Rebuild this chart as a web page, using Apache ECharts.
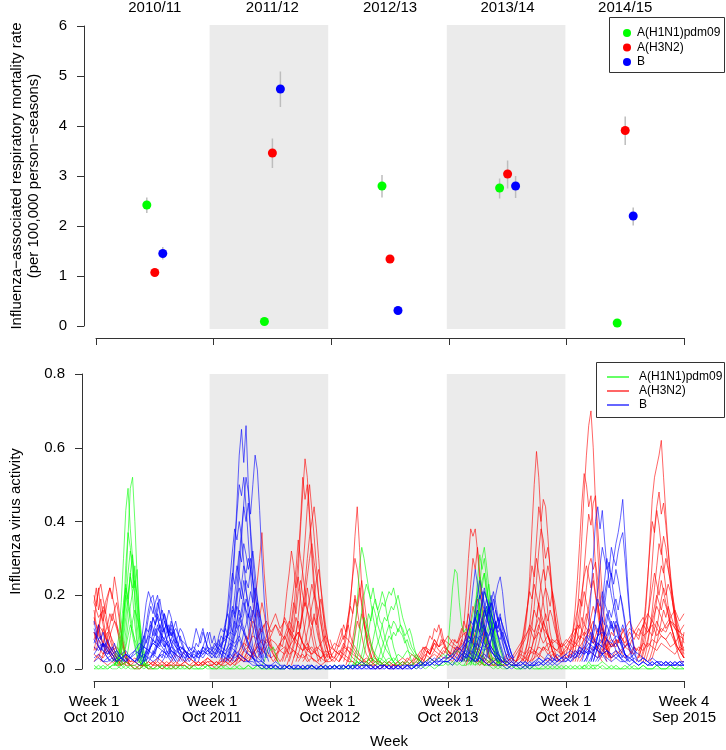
<!DOCTYPE html>
<html><head><meta charset="utf-8">
<script src="https://cdn.jsdelivr.net/npm/echarts@6/dist/echarts.min.js"></script>
<style>html,body{margin:0;padding:0;background:#fff}#c{width:726px;height:750px}</style>
</head><body><div id="c"></div>
<script>
// ---------- Top panel data ----------
const seasons = ['2010/11', '2011/12', '2012/13', '2013/14', '2014/15'];
const subtypes = ['A(H1N1)pdm09', 'A(H3N2)', 'B'];
const h1n1Rate = [2.42, 0.09, 2.80, 2.76, 0.06];
const h1n1Low  = [2.26, 0.07, 2.57, 2.55, 0.05];
const h1n1High = [2.57, 0.11, 3.02, 2.95, 0.07];
const h3n2Rate = [1.07, 3.46, 1.34, 3.04, 3.91];
const h3n2Low  = [1.00, 3.16, 1.26, 2.75, 3.62];
const h3n2High = [1.13, 3.75, 1.42, 3.31, 4.19];
const bRate = [1.45, 4.74, 0.31, 2.80, 2.20];
const bLow  = [1.33, 4.38, 0.28, 2.56, 2.01];
const bHigh = [1.58, 5.09, 0.34, 3.00, 2.37];

// ---------- Bottom panel data (week index from Week 1 Oct 2010) ----------
const weekTickLabels = ['Week 1\nOct 2010', 'Week 1\nOct 2011', 'Week 1\nOct 2012', 'Week 1\nOct 2013', 'Week 1\nOct 2014', 'Week 4\nSep 2015'];
const weekTicks = [0, 52, 104, 156, 208, 260];
const shadedSeasons = [[52, 104], [156, 208]];

// curves: [startWeek, weekly values]
const h1n1Curves = [
  [9, [.01,.02,.03,.06,.12,.22,.36,.49,.52,.40,.25,.12,.05,.02,.01,0]],
  [8, [.02,.03,.05,.09,.18,.30,.43,.49,.38,.30,.18,.08,.04,.02,.01]],
  [9, [.01,.02,.04,.08,.15,.28,.37,.33,.25,.20,.12,.06,.03,.01]],
  [10, [.01,.03,.05,.10,.18,.26,.32,.29,.22,.27,.14,.06,.02,.01]],
  [11, [.02,.04,.08,.14,.20,.25,.22,.28,.18,.10,.05,.02,.01]],
  [9, [.01,.03,.06,.12,.18,.23,.19,.15,.11,.07,.04,.02,.01]],
  [12, [.01,.03,.07,.12,.17,.21,.24,.20,.14,.09,.05,.02]],
  [10, [.02,.04,.09,.15,.20,.17,.13,.09,.06,.03,.02,.01]],
  [13, [.01,.02,.05,.09,.13,.16,.14,.11,.07,.04,.02,.01]],
  [11, [.01,.02,.04,.06,.09,.12,.10,.08,.06,.04,.02,.01]],
  [12, [.02,.05,.10,.17,.26,.31,.24,.16,.09,.05,.02,.01]],
  [10, [.01,.03,.07,.14,.22,.19,.26,.20,.12,.07,.03,.01]],
  [74, [.01,.02,.04,.06,.05,.06,.04,.02,.01]],
  [112, [.01,.02,.05,.10,.18,.28,.33,.30,.26,.22,.18,.14,.11,.08,.06,.04,.03,.02,.01]],
  [114, [.01,.03,.06,.11,.16,.20,.23,.21,.19,.22,.18,.16,.13,.12,.09,.07,.05,.03,.02,.01]],
  [118, [.02,.04,.07,.10,.14,.17,.19,.16,.18,.21,.19,.15,.12,.09,.06,.04,.02,.01]],
  [120, [.01,.03,.05,.08,.11,.14,.16,.18,.17,.19,.21,.20,.22,.19,.16,.12,.10,.08,.06,.04,.02,.01]],
  [122, [.02,.03,.05,.07,.09,.12,.14,.13,.15,.17,.16,.18,.20,.17,.14,.12,.10,.11,.09,.06,.04,.03,.02]],
  [116, [.01,.02,.04,.07,.11,.15,.13,.17,.15,.12,.10,.08,.06,.05,.04,.03,.02,.01]],
  [124, [.01,.02,.04,.06,.08,.10,.12,.11,.13,.12,.10,.12,.11,.09,.10,.08,.06,.05,.04,.03,.02,.01]],
  [115, [.01,.03,.06,.10,.14,.12,.09,.07,.05,.04,.03,.02,.01]],
  [125, [.01,.02,.03,.05,.07,.09,.08,.10,.09,.11,.10,.09,.07,.08,.06,.05,.04,.03,.02,.01]],
  [155, [.02,.06,.14,.22,.27,.26,.18,.12,.10,.11,.09,.08,.06,.05,.04,.03,.02,.01]],
  [166, [.01,.03,.07,.13,.22,.30,.33,.28,.22,.15,.09,.05,.03,.01]],
  [165, [.02,.04,.09,.16,.24,.31,.27,.30,.24,.17,.10,.06,.03,.02,.01]],
  [166, [.01,.03,.06,.11,.18,.24,.26,.22,.18,.13,.08,.05,.02,.01]],
  [167, [.02,.04,.08,.13,.17,.21,.19,.23,.18,.12,.07,.04,.02,.01]],
  [165, [.01,.02,.05,.09,.14,.18,.16,.14,.17,.13,.09,.06,.03,.01]],
  [168, [.01,.03,.06,.10,.14,.16,.13,.11,.08,.05,.03,.01]],
  [163, [.01,.02,.04,.07,.10,.13,.15,.12,.10,.08,.05,.03,.02,.01]],
  [170, [.01,.02,.05,.08,.11,.13,.11,.09,.07,.05,.03,.02,.01]],
  [162, [.02,.04,.06,.09,.12,.15,.18,.20,.17,.14,.11,.08,.05,.03,.02]],
  [164, [.02,.03,.06,.10,.15,.21,.25,.22,.26,.20,.14,.09,.05,.03,.01]],
  [167, [.01,.03,.05,.08,.12,.16,.14,.18,.15,.11,.08,.05,.03,.02]],
  [163, [.02,.04,.07,.11,.09,.13,.16,.13,.10,.12,.09,.06,.04,.02,.01]],
  [169, [.01,.02,.04,.07,.10,.12,.15,.13,.10,.08,.06,.04,.02]],
  [215, [0,.01,.01,.02,.01,.01,0]]
];
const h3n2Curves = [
  [0, [.20,.17,.22,.15,.12,.09,.07,.05,.04,.03,.02,.02,.01]],
  [0, [.12,.18,.21,.23,.19,.16,.12,.10,.07,.05,.03,.02,.01]],
  [1, [.08,.11,.15,.13,.18,.20,.22,.19,.25,.21,.16,.10,.06,.03,.02,.01]],
  [0, [.05,.08,.10,.14,.17,.15,.19,.22,.20,.17,.12,.08,.05,.03,.01]],
  [2, [.03,.05,.07,.10,.12,.15,.13,.16,.18,.14,.10,.07,.04,.02,.01]],
  [0, [.16,.12,.10,.08,.11,.09,.07,.06,.05,.04,.03,.02]],
  [3, [.02,.04,.05,.07,.09,.11,.13,.12,.10,.08,.06,.04,.02,.01]],
  [0, [.06,.05,.08,.07,.06,.09,.10,.08,.06,.05,.04,.03,.02,.01]],
  [0, [.18,.22,.16,.19,.14,.10,.08,.06,.05,.04,.03,.02,.01]],
  [4, [.04,.06,.09,.12,.15,.13,.11,.09,.07,.05,.04,.03,.02]],
  [0, [.10,.08,.12,.09,.07,.05,.06,.04,.03,.02,.02,.01]],
  [64, [.02,.03,.05,.07,.09,.12,.15,.19,.24,.30,.37,.26,.18,.11,.07,.05,.04,.03,.02]],
  [66, [.02,.04,.06,.08,.10,.13,.16,.14,.18,.15,.11,.08,.06,.04,.03,.02]],
  [62, [.01,.02,.04,.05,.07,.09,.08,.11,.13,.12,.10,.08,.07,.06,.05,.04,.03,.02]],
  [68, [.02,.03,.05,.07,.09,.11,.10,.12,.09,.07,.05,.04,.03,.02]],
  [85, [.03,.05,.08,.12,.18,.26,.38,.48,.57,.52,.42,.33,.24,.17,.11,.07,.05,.03,.02]],
  [84, [.02,.04,.07,.11,.16,.23,.30,.40,.52,.46,.50,.41,.30,.21,.14,.09,.06,.04,.02]],
  [86, [.02,.04,.06,.09,.14,.20,.27,.35,.44,.50,.43,.36,.28,.20,.13,.08,.05,.03]],
  [88, [.03,.05,.08,.12,.17,.23,.30,.36,.40,.44,.38,.30,.22,.15,.09,.05,.03]],
  [80, [.02,.04,.06,.10,.15,.21,.26,.32,.28,.22,.25,.19,.14,.10,.07,.05,.03,.02]],
  [82, [.02,.03,.05,.08,.12,.17,.22,.27,.35,.30,.26,.21,.16,.12,.09,.06,.04,.02]],
  [87, [.01,.03,.05,.08,.12,.16,.20,.25,.30,.34,.29,.25,.20,.15,.11,.07,.05,.03,.02]],
  [83, [.02,.04,.06,.09,.13,.18,.15,.21,.24,.20,.17,.22,.18,.13,.09,.06,.04,.02]],
  [89, [.02,.04,.06,.09,.12,.16,.19,.23,.20,.24,.27,.22,.17,.12,.08,.05,.03]],
  [85, [.01,.03,.05,.07,.10,.13,.11,.15,.18,.16,.14,.12,.15,.11,.08,.06,.04,.02]],
  [90, [.02,.03,.05,.07,.10,.13,.17,.20,.18,.15,.12,.09,.07,.05,.03]],
  [79, [.02,.03,.05,.07,.06,.09,.11,.13,.12,.10,.14,.12,.09,.07,.05,.03,.02]],
  [92, [.02,.03,.05,.08,.11,.14,.12,.16,.19,.15,.11,.08,.05,.03]],
  [108, [.02,.03,.05,.08,.12,.18,.26,.36,.44,.33,.22,.14,.09,.06,.04,.02]],
  [108, [.02,.04,.06,.10,.14,.19,.25,.30,.27,.22,.17,.12,.08,.05,.03,.02]],
  [110, [.02,.04,.07,.11,.15,.20,.17,.22,.18,.13,.09,.06,.04,.02]],
  [106, [.03,.05,.07,.09,.12,.10,.14,.17,.15,.19,.16,.12,.09,.06,.04,.03,.02]],
  [111, [.01,.03,.05,.08,.12,.16,.20,.24,.19,.14,.10,.07,.05,.03,.02]],
  [104, [.08,.06,.05,.07,.09,.11,.08,.10,.12,.09,.07,.06,.05,.04,.03,.02]],
  [112, [.02,.04,.06,.09,.13,.11,.15,.12,.10,.08,.06,.04,.03,.02]],
  [142, [.02,.03,.04,.06,.05,.07,.09,.08,.11,.10,.12,.09,.07,.06,.05,.04]],
  [145, [.02,.03,.05,.04,.06,.08,.07,.09,.11,.08,.06,.05,.04,.03]],
  [144, [.01,.02,.03,.05,.04,.06,.05,.07,.06,.08,.07,.05,.04,.03]],
  [160, [.02,.04,.07,.12,.20,.30,.38,.36,.38,.32,.24,.16,.10,.06,.04,.02]],
  [161, [.02,.03,.06,.10,.16,.23,.30,.27,.33,.26,.19,.12,.07,.04,.02]],
  [162, [.02,.04,.06,.09,.13,.17,.15,.19,.16,.12,.08,.05,.03,.02]],
  [164, [.01,.03,.05,.07,.10,.12,.10,.13,.11,.08,.06,.04,.02]],
  [158, [.03,.05,.04,.06,.08,.07,.09,.11,.10,.08,.06,.05,.04,.03,.02]],
  [156, [.05,.04,.06,.08,.07,.09,.11,.10,.08,.12,.09,.07,.06,.05,.04,.03,.02]],
  [158, [.04,.06,.05,.08,.10,.13,.11,.15,.12,.10,.08,.07,.05,.04,.03,.02]],
  [166, [.02,.03,.05,.07,.06,.08,.10,.09,.07,.06,.05,.04,.03,.02]],
  [188, [.03,.06,.10,.16,.25,.38,.50,.59,.52,.40,.30,.22,.15,.10,.07,.05,.03,.02]],
  [189, [.02,.04,.07,.12,.18,.26,.35,.44,.40,.46,.44,.36,.27,.19,.13,.08,.05,.03]],
  [190, [.02,.04,.07,.11,.17,.24,.32,.38,.35,.30,.33,.28,.21,.15,.10,.06,.04,.02]],
  [187, [.03,.05,.08,.12,.17,.22,.28,.25,.30,.26,.22,.18,.14,.10,.07,.05,.03,.02]],
  [191, [.02,.04,.06,.09,.13,.18,.23,.27,.24,.28,.25,.20,.15,.11,.08,.05,.03]],
  [186, [.02,.04,.06,.09,.13,.17,.21,.19,.23,.20,.17,.14,.11,.08,.06,.04,.02]],
  [192, [.02,.03,.05,.08,.11,.15,.19,.22,.20,.17,.21,.18,.14,.10,.07,.05,.03]],
  [188, [.02,.03,.05,.07,.10,.13,.16,.14,.18,.15,.13,.11,.09,.07,.05,.03]],
  [193, [.02,.03,.05,.07,.10,.12,.15,.13,.16,.14,.11,.09,.07,.05,.04,.03]],
  [190, [.01,.02,.04,.06,.08,.10,.12,.10,.13,.11,.09,.07,.05,.04,.03,.02]],
  [210, [.03,.05,.09,.15,.24,.36,.48,.58,.66,.70,.60,.45,.32,.21,.13,.08,.05,.03]],
  [209, [.03,.06,.10,.16,.24,.34,.45,.53,.50,.44,.47,.38,.28,.19,.12,.07,.04,.02]],
  [211, [.02,.05,.08,.13,.19,.27,.35,.42,.39,.45,.47,.38,.29,.20,.13,.08,.05,.03]],
  [212, [.02,.04,.07,.11,.16,.22,.28,.30,.27,.29,.24,.18,.13,.09,.06,.04,.02]],
  [210, [.03,.05,.08,.12,.16,.21,.25,.28,.25,.22,.26,.20,.15,.11,.08,.05,.03]],
  [213, [.02,.04,.06,.09,.13,.17,.21,.24,.20,.17,.13,.10,.07,.05,.03]],
  [208, [.04,.06,.08,.10,.13,.16,.19,.17,.21,.18,.15,.12,.09,.07,.05,.03,.02]],
  [214, [.02,.03,.05,.08,.11,.14,.17,.15,.18,.14,.11,.08,.06,.04,.03]],
  [209, [.03,.05,.07,.09,.12,.11,.14,.12,.15,.13,.11,.09,.07,.05,.04,.03]],
  [224, [.05,.07,.06,.08,.10,.09,.12,.10,.08,.11,.09,.07,.06,.08,.06,.05]],
  [226, [.04,.05,.07,.06,.08,.07,.09,.08,.06,.07,.05,.04,.06,.05]],
  [240, [.03,.05,.09,.15,.24,.35,.46,.52,.55,.58,.62,.52,.42,.33,.25,.18,.13,.09,.06,.04,.03]],
  [241, [.03,.05,.08,.13,.20,.29,.38,.44,.48,.42,.45,.39,.32,.26,.20,.15,.11,.08,.05,.03]],
  [239, [.02,.04,.07,.11,.17,.25,.33,.40,.37,.43,.39,.33,.27,.22,.17,.13,.10,.07,.05,.03,.02,.02]],
  [242, [.02,.04,.07,.11,.16,.22,.28,.34,.31,.36,.33,.28,.23,.18,.14,.10,.08,.06,.04]],
  [243, [.02,.04,.06,.10,.14,.19,.24,.28,.26,.30,.27,.24,.20,.16,.12,.09,.07,.05]],
  [240, [.03,.05,.07,.10,.14,.18,.22,.26,.23,.20,.24,.21,.18,.15,.12,.10,.08,.06,.05,.04,.03]],
  [244, [.02,.03,.05,.08,.11,.15,.19,.22,.20,.23,.21,.18,.15,.13,.11,.09,.07]],
  [241, [.02,.04,.06,.08,.11,.14,.17,.20,.18,.16,.19,.17,.15,.12,.10,.08,.06,.05,.04,.03]],
  [245, [.02,.03,.05,.07,.10,.13,.16,.14,.17,.15,.13,.11,.10,.08,.06,.10]]
];
const bCurves = [
  [0, [.13,.10,.08,.09,.06,.07,.05,.04,.03,.02]],
  [0, [.07,.09,.06,.05,.07,.04,.03,.02]],
  [0, [.11,.09,.12,.08,.10,.07,.06,.05,.04,.03,.02]],
  [3, [.05,.07,.06,.08,.06,.05,.07,.05,.04,.03,.02,.03,.02]],
  [19, [.02,.04,.08,.13,.18,.21,.19,.20,.16,.14,.11,.09,.07,.05,.04,.03,.02]],
  [20, [.02,.03,.06,.10,.14,.17,.15,.18,.20,.16,.12,.10,.08,.06,.04,.03,.02]],
  [21, [.01,.03,.05,.08,.11,.14,.12,.15,.13,.16,.14,.12,.09,.07,.05,.03,.02]],
  [22, [.02,.03,.05,.07,.10,.12,.14,.11,.13,.15,.12,.10,.11,.09,.07,.05,.04,.03]],
  [23, [.02,.04,.06,.08,.07,.10,.12,.10,.13,.11,.09,.12,.10,.08,.06,.05,.03,.02]],
  [18, [.02,.03,.05,.07,.09,.11,.10,.12,.09,.11,.08,.07,.06,.05,.04,.03,.02]],
  [24, [.02,.03,.04,.06,.08,.07,.09,.11,.08,.10,.13,.11,.09,.07,.05,.04,.03,.02]],
  [21, [.02,.03,.05,.04,.06,.08,.07,.09,.08,.07,.06,.08,.07,.05,.04,.03]],
  [20, [.03,.05,.08,.12,.16,.19,.17,.14,.18,.15,.12,.10,.13,.09,.07,.06,.04,.03,.02]],
  [22, [.02,.04,.07,.10,.14,.12,.16,.19,.15,.13,.11,.09,.10,.08,.06,.05,.03,.02]],
  [25, [.03,.05,.04,.07,.06,.09,.08,.10,.12,.09,.11,.08,.07,.05,.06,.04,.03,.02]],
  [28, [.02,.04,.03,.05,.07,.06,.08,.10,.08,.06,.09,.07,.05,.04,.03]],
  [19, [.02,.03,.06,.09,.07,.10,.13,.11,.09,.12,.10,.08,.06,.07,.05,.04,.03,.02]],
  [26, [.03,.05,.07,.09,.12,.15,.13,.16,.14,.11,.13,.10,.08,.06,.05,.04,.03]],
  [30, [.02,.03,.05,.04,.06,.08,.07,.09,.11,.10,.08,.06,.05,.04,.03,.02]],
  [40, [.02,.04,.06,.05,.08,.11,.09,.07,.10,.08,.06,.05,.04]],
  [42, [.02,.03,.05,.07,.06,.09,.11,.08,.06,.04,.03]],
  [44, [.02,.03,.05,.04,.06,.08,.10,.07,.05,.04,.03]],
  [46, [.02,.04,.06,.05,.08,.10,.07,.09,.06,.05,.04]],
  [56, [.03,.05,.07,.10,.15,.22,.32,.45,.58,.65,.56,.66,.50,.36,.24,.15,.09,.05,.03,.02]],
  [59, [.03,.05,.08,.12,.18,.26,.35,.45,.52,.48,.42,.50,.58,.54,.43,.30,.19,.11,.06,.03]],
  [56, [.02,.04,.07,.11,.17,.25,.34,.42,.50,.47,.52,.44,.35,.26,.18,.11,.07,.04,.02]],
  [58, [.02,.04,.06,.10,.15,.22,.30,.38,.44,.40,.45,.38,.30,.22,.15,.09,.05,.03]],
  [55, [.03,.05,.08,.12,.18,.25,.32,.38,.35,.40,.36,.29,.22,.15,.10,.06,.04,.02]],
  [57, [.02,.04,.06,.09,.14,.20,.26,.32,.29,.34,.31,.27,.30,.24,.17,.11,.07,.04,.02]],
  [59, [.02,.04,.06,.09,.13,.18,.23,.28,.26,.30,.27,.32,.26,.19,.13,.08,.05,.03]],
  [54, [.04,.06,.09,.08,.12,.16,.21,.26,.23,.28,.25,.22,.19,.15,.11,.07,.04,.02]],
  [60, [.02,.03,.05,.08,.12,.16,.20,.24,.22,.27,.24,.20,.16,.12,.08,.05,.03]],
  [56, [.03,.05,.07,.10,.13,.17,.15,.20,.22,.19,.24,.21,.18,.14,.11,.08,.05,.03]],
  [61, [.02,.04,.06,.09,.12,.15,.19,.17,.21,.18,.22,.19,.15,.11,.07,.04,.02]],
  [58, [.02,.03,.05,.07,.10,.13,.16,.14,.18,.16,.14,.17,.14,.11,.08,.05,.03]],
  [52, [.05,.07,.06,.09,.11,.10,.13,.15,.12,.16,.14,.17,.15,.13,.11,.09,.07,.05,.03,.02]],
  [62, [.02,.03,.05,.07,.10,.12,.15,.13,.16,.14,.18,.15,.12,.09,.06,.04]],
  [53, [.03,.05,.08,.06,.09,.11,.09,.12,.10,.13,.11,.14,.12,.10,.08,.06,.05,.03]],
  [162, [.02,.04,.07,.11,.16,.22,.27,.23,.19,.21,.18,.15,.12,.09,.07,.05,.03,.02]],
  [169, [.02,.04,.06,.09,.12,.15,.18,.16,.20,.23,.25,.21,.15,.10,.06,.04,.02]],
  [164, [.02,.04,.06,.09,.13,.17,.20,.18,.22,.19,.16,.13,.10,.07,.05,.03,.02]],
  [165, [.02,.03,.05,.08,.11,.15,.18,.16,.19,.17,.20,.16,.12,.09,.06,.04,.02]],
  [166, [.02,.03,.05,.07,.10,.13,.16,.14,.17,.15,.13,.16,.13,.10,.07,.05,.03,.02]],
  [163, [.02,.04,.06,.08,.11,.14,.12,.15,.13,.16,.14,.12,.10,.08,.06,.04,.03]],
  [167, [.02,.03,.05,.07,.09,.12,.14,.12,.15,.13,.11,.14,.12,.09,.07,.05,.03]],
  [170, [.02,.03,.05,.07,.09,.11,.10,.13,.11,.14,.12,.10,.08,.06,.04,.03]],
  [161, [.02,.03,.05,.07,.09,.08,.11,.10,.12,.10,.09,.11,.09,.07,.05,.04,.03,.02]],
  [168, [.02,.03,.04,.06,.08,.10,.09,.11,.13,.11,.09,.08,.10,.08,.06,.04,.03]],
  [160, [.02,.03,.05,.07,.09,.11,.13,.12,.14,.16,.13,.11,.12,.10,.08,.06,.05,.04,.03,.02]],
  [166, [.02,.04,.07,.10,.14,.18,.21,.19,.16,.18,.15,.12,.09,.07,.05,.03,.02]],
  [172, [.02,.03,.05,.08,.10,.13,.11,.14,.12,.10,.08,.06,.04,.03]],
  [164, [.03,.05,.08,.12,.16,.20,.24,.21,.17,.14,.16,.12,.09,.06,.04,.03,.02]],
  [167, [.02,.03,.05,.08,.11,.14,.17,.15,.18,.21,.18,.14,.11,.08,.05,.03,.02]],
  [162, [.02,.04,.06,.09,.08,.11,.14,.12,.10,.13,.11,.09,.07,.05,.04,.03,.02]],
  [169, [.02,.04,.06,.09,.13,.17,.15,.19,.16,.13,.15,.11,.08,.05,.03,.02]],
  [171, [.02,.03,.04,.06,.08,.10,.12,.10,.11,.09,.07,.06,.04,.03,.02]],
  [215, [.02,.04,.07,.12,.20,.30,.40,.44,.38,.43,.35,.28,.24,.20,.17,.14,.11,.08,.06,.04,.03]],
  [219, [.02,.04,.06,.09,.13,.18,.24,.30,.27,.33,.30,.34,.37,.41,.46,.36,.25,.16,.10,.06,.04]],
  [220, [.02,.04,.06,.09,.13,.17,.22,.27,.25,.30,.28,.32,.35,.37,.30,.22,.15,.09,.05,.03]],
  [217, [.02,.04,.07,.11,.16,.22,.28,.33,.30,.27,.29,.25,.20,.16,.12,.09,.06,.04,.02]],
  [219, [.02,.04,.06,.09,.12,.16,.20,.24,.22,.26,.23,.27,.24,.20,.16,.12,.08,.05,.03]],
  [216, [.02,.03,.05,.08,.11,.15,.19,.17,.21,.18,.16,.14,.12,.10,.08,.06,.04,.03]],
  [221, [.02,.03,.05,.07,.10,.13,.16,.14,.17,.19,.16,.20,.17,.13,.09,.06,.04,.02]],
  [218, [.02,.03,.05,.07,.09,.12,.14,.12,.15,.13,.11,.13,.11,.09,.07,.05,.04,.03]],
  [222, [.02,.03,.04,.06,.08,.10,.12,.11,.13,.12,.10,.12,.10,.08,.06,.05,.04]],
  [216, [.02,.03,.05,.07,.09,.12,.10,.13,.11,.09,.12,.10,.08,.07,.05,.04,.03,.02]],
  [220, [.02,.04,.06,.08,.07,.10,.09,.11,.13,.10,.12,.09,.07,.06,.04,.03,.02]],
  [212, [.03,.04,.06,.05,.07,.09,.08,.10,.08,.07,.06,.05,.04,.03,.02]]
];

// long low-level curves, one value every 2 weeks from week 0 to week 260
const h3n2Baselines = [
  [.10,.06,.04,.05,.03,.02,.03,.02,.01,.02,.01,.01,.02,.01,.01,.02,.01,.02,.01,.01,.02,.03,.02,.01,.02,.03,
   .02,.01,.02,.03,.02,.04,.03,.05,.06,.04,.07,.05,.08,.06,.05,.07,.09,.06,.08,.10,.07,.05,.06,.04,.03,.05,
   .04,.03,.05,.04,.06,.05,.03,.02,.03,.02,.01,.02,.01,.02,.01,.01,.02,.01,.02,.03,.02,.04,.03,.05,.04,.06,
   .05,.04,.06,.05,.07,.04,.03,.02,.03,.02,.03,.02,.01,.02,.03,.02,.04,.03,.05,.04,.06,.05,.07,.06,.05,.07,
   .06,.08,.07,.09,.08,.10,.07,.06,.08,.05,.07,.06,.09,.07,.10,.08,.11,.09,.10,.12,.09,.11,.10,.13,.11,.10,.12],
  [.04,.03,.02,.01,.02,.01,.01,.02,.01,.00,.01,.01,.00,.01,.02,.01,.01,.00,.01,.01,.02,.01,.01,.02,.01,.02,
   .01,.02,.01,.02,.01,.02,.03,.02,.03,.04,.03,.05,.04,.03,.04,.05,.04,.06,.05,.04,.03,.04,.03,.02,.03,.02,
   .02,.03,.02,.04,.03,.02,.01,.02,.01,.01,.00,.01,.01,.00,.01,.01,.02,.01,.02,.01,.03,.02,.03,.02,.04,.03,
   .03,.02,.04,.03,.02,.03,.02,.01,.02,.01,.01,.02,.01,.01,.02,.01,.02,.03,.02,.03,.04,.03,.02,.04,.03,.02,
   .03,.04,.05,.04,.06,.05,.04,.03,.05,.04,.03,.05,.04,.06,.05,.04,.06,.05,.07,.06,.05,.07,.06,.05,.04,.06,.05],
  [.14,.09,.07,.06,.04,.03,.02,.01,.01,.00,.00,.01,.00,.00,.01,.00,.01,.01,.00,.01,.01,.00,.01,.01,.02,.01,
   .01,.00,.01,.01,.02,.01,.02,.03,.02,.04,.06,.08,.07,.09,.12,.10,.08,.11,.09,.07,.05,.06,.04,.05,.07,.09,
   .06,.05,.04,.03,.02,.02,.01,.01,.02,.01,.01,.00,.01,.01,.00,.01,.01,.02,.01,.03,.02,.05,.04,.07,.06,.08,
   .07,.06,.05,.04,.03,.02,.03,.02,.01,.02,.01,.01,.02,.02,.03,.02,.05,.04,.06,.05,.04,.06,.05,.08,.07,.06,
   .08,.07,.06,.08,.10,.09,.07,.11,.09,.08,.06,.07,.09,.11,.13,.10,.12,.14,.11,.09,.13,.10,.12,.14,.16,.13,.15],
  [.08,.12,.10,.07,.05,.06,.04,.03,.02,.03,.02,.01,.02,.01,.03,.02,.01,.02,.04,.03,.02,.01,.02,.01,.02,.01,
   .01,.02,.01,.03,.02,.04,.05,.07,.06,.09,.08,.11,.13,.10,.12,.09,.14,.11,.08,.10,.07,.05,.04,.06,.05,.03,
   .05,.07,.06,.09,.08,.06,.04,.03,.02,.03,.02,.02,.01,.02,.01,.02,.03,.02,.04,.03,.05,.06,.04,.07,.05,.04,
   .06,.08,.07,.09,.10,.08,.06,.05,.04,.03,.02,.03,.02,.04,.03,.05,.07,.09,.11,.08,.10,.07,.09,.06,.05,.04,
   .05,.07,.10,.12,.09,.11,.08,.07,.05,.06,.08,.07,.05,.06,.08,.10,.09,.12,.10,.13,.11,.09,.08,.10,.07,.09,.08],
  [.02,.04,.03,.05,.04,.02,.01,.02,.01,.01,.00,.01,.01,.02,.01,.00,.01,.01,.02,.01,.01,.00,.01,.02,.01,.03,
   .02,.01,.03,.02,.01,.02,.03,.02,.04,.03,.05,.04,.06,.08,.07,.05,.06,.04,.05,.03,.04,.02,.03,.02,.01,.02,
   .03,.02,.04,.06,.05,.03,.02,.01,.01,.02,.01,.00,.01,.00,.01,.01,.00,.01,.01,.02,.01,.02,.03,.04,.03,.05,
   .04,.03,.05,.07,.06,.04,.05,.03,.02,.01,.02,.01,.01,.02,.01,.02,.03,.02,.04,.05,.03,.06,.04,.05,.03,.04,
   .06,.05,.07,.06,.08,.07,.05,.06,.04,.05,.03,.04,.05,.03,.04,.06,.05,.07,.06,.08,.07,.09,.08,.06,.07,.05,.06],
  [.18,.14,.16,.11,.08,.05,.04,.03,.02,.02,.01,.01,.01,.02,.01,.01,.02,.01,.01,.03,.05,.03,.02,.01,.01,.02,
   .02,.01,.02,.02,.03,.02,.04,.03,.05,.04,.06,.05,.09,.12,.15,.11,.13,.10,.08,.06,.05,.07,.05,.04,.03,.04,
   .03,.05,.04,.07,.05,.04,.03,.02,.02,.01,.02,.01,.02,.01,.01,.02,.01,.03,.02,.04,.03,.06,.05,.08,.06,.07,
   .09,.07,.06,.05,.04,.03,.02,.02,.01,.02,.01,.02,.02,.03,.02,.04,.06,.08,.12,.10,.14,.11,.09,.07,.08,.06,
   .07,.09,.11,.08,.12,.10,.13,.09,.11,.08,.06,.08,.07,.09,.11,.10,.08,.12,.15,.13,.17,.14,.11,.13,.12,.10,.09]
];
const bBaselines = [
  [.06,.05,.07,.04,.05,.03,.04,.05,.03,.04,.05,.06,.05,.07,.06,.05,.04,.06,.05,.04,.03,.04,.05,.03,.04,.06,
   .05,.04,.06,.05,.07,.06,.08,.05,.04,.03,.02,.02,.01,.01,.02,.01,.01,.00,.01,.01,.00,.01,.01,.00,.01,.00,
   .01,.00,.01,.01,.00,.01,.01,.02,.01,.01,.00,.01,.01,.00,.01,.00,.01,.01,.00,.01,.01,.02,.01,.02,.01,.02,
   .02,.03,.02,.04,.03,.05,.04,.03,.04,.03,.02,.03,.02,.01,.02,.01,.02,.01,.01,.02,.01,.02,.03,.02,.03,.02,
   .03,.02,.04,.03,.05,.04,.06,.05,.04,.05,.04,.03,.04,.03,.02,.03,.02,.03,.02,.01,.02,.01,.02,.01,.02,.01,.02],
  [.03,.04,.02,.03,.02,.03,.02,.04,.03,.02,.03,.04,.03,.02,.03,.04,.03,.05,.04,.03,.05,.04,.03,.04,.05,.04,
   .03,.05,.04,.03,.04,.03,.04,.03,.02,.03,.01,.01,.00,.01,.00,.00,.01,.00,.00,.01,.00,.00,.01,.00,.00,.01,
   .00,.01,.00,.00,.01,.00,.01,.00,.00,.01,.00,.00,.01,.00,.00,.01,.00,.01,.00,.01,.02,.01,.02,.03,.02,.03,
   .03,.04,.03,.05,.04,.03,.02,.03,.02,.01,.02,.01,.01,.00,.01,.01,.00,.01,.00,.01,.01,.02,.01,.02,.01,.02,
   .02,.03,.04,.05,.04,.05,.04,.03,.04,.03,.02,.03,.02,.02,.01,.02,.01,.02,.01,.01,.02,.01,.01,.02,.01,.01,.01],
  [.10,.08,.05,.04,.06,.04,.03,.02,.03,.02,.01,.02,.03,.04,.03,.05,.04,.03,.05,.06,.05,.04,.03,.05,.04,.05,
   .04,.06,.05,.04,.06,.05,.03,.02,.02,.01,.01,.00,.01,.00,.01,.00,.00,.01,.00,.01,.00,.00,.01,.00,.01,.00,
   .00,.01,.00,.01,.00,.00,.01,.00,.01,.00,.00,.01,.00,.01,.00,.00,.01,.00,.00,.01,.00,.01,.01,.02,.01,.02,
   .02,.01,.03,.02,.04,.03,.02,.03,.02,.01,.02,.01,.02,.01,.00,.01,.01,.00,.01,.01,.02,.01,.02,.03,.02,.03,
   .04,.05,.04,.06,.05,.07,.06,.05,.04,.05,.03,.04,.03,.02,.03,.02,.01,.02,.01,.02,.01,.01,.02,.01,.01,.02,.01],
  [.04,.06,.05,.03,.04,.02,.03,.02,.04,.05,.07,.06,.09,.08,.11,.09,.07,.08,.06,.05,.04,.03,.05,.04,.06,.05,
   .06,.05,.07,.08,.10,.09,.12,.10,.07,.05,.03,.02,.01,.01,.00,.01,.00,.01,.00,.00,.01,.00,.01,.00,.00,.01,
   .00,.00,.01,.00,.01,.00,.00,.01,.01,.00,.01,.00,.00,.01,.00,.01,.00,.01,.01,.00,.01,.02,.01,.02,.03,.02,
   .03,.04,.06,.05,.07,.08,.06,.09,.07,.05,.04,.03,.02,.01,.02,.01,.01,.02,.01,.02,.03,.02,.04,.03,.02,.03,
   .04,.03,.05,.04,.06,.08,.07,.09,.10,.08,.06,.07,.05,.04,.03,.04,.02,.03,.02,.01,.02,.02,.01,.02,.01,.02,.01],
  [.02,.03,.02,.02,.03,.02,.03,.04,.03,.05,.04,.06,.05,.04,.06,.08,.07,.05,.04,.06,.05,.03,.04,.03,.05,.04,
   .05,.07,.06,.09,.08,.07,.09,.06,.04,.03,.02,.01,.01,.00,.01,.00,.00,.01,.00,.00,.01,.00,.00,.00,.01,.00,
   .01,.00,.00,.01,.00,.01,.00,.00,.01,.00,.00,.01,.01,.00,.00,.01,.00,.00,.01,.01,.02,.01,.03,.02,.02,.03,
   .04,.03,.05,.06,.08,.07,.09,.08,.06,.07,.05,.04,.03,.02,.01,.02,.01,.02,.01,.01,.02,.01,.02,.01,.02,.03,
   .03,.02,.03,.05,.04,.06,.05,.07,.06,.08,.07,.09,.08,.06,.07,.05,.04,.03,.02,.03,.02,.01,.02,.01,.01,.02,.02],
  [.08,.06,.07,.05,.04,.05,.03,.04,.03,.02,.04,.03,.05,.07,.06,.10,.12,.09,.11,.08,.07,.05,.06,.04,.03,.05,
   .04,.03,.05,.04,.03,.05,.04,.03,.02,.02,.01,.01,.00,.01,.01,.00,.01,.00,.01,.00,.00,.01,.00,.01,.00,.00,
   .00,.01,.00,.00,.01,.01,.00,.01,.00,.00,.01,.00,.01,.00,.01,.00,.00,.01,.00,.01,.01,.01,.02,.01,.02,.02,
   .02,.03,.02,.04,.05,.04,.07,.06,.05,.06,.04,.03,.02,.02,.01,.01,.02,.01,.02,.01,.03,.02,.03,.02,.04,.03,
   .02,.04,.03,.04,.05,.04,.05,.07,.06,.05,.04,.05,.03,.04,.03,.02,.01,.02,.01,.02,.01,.02,.01,.01,.02,.01,.01]
];
const h1n1Baselines = [
  [.01,.00,.01,.00,.01,.02,.01,.02,.01,.01,.02,.01,.01,.00,.01,.00,.00,.01,.00,.01,.00,.00,.01,.00,.00,.01,
   .00,.00,.01,.00,.00,.01,.00,.00,.01,.00,.01,.00,.00,.00,.01,.00,.00,.01,.00,.00,.00,.01,.00,.00,.01,.00,
   .00,.01,.00,.01,.00,.01,.02,.01,.02,.03,.02,.03,.02,.03,.02,.04,.03,.05,.04,.03,.02,.01,.02,.01,.01,.02,
   .01,.02,.01,.02,.03,.02,.03,.04,.03,.02,.03,.02,.01,.02,.01,.01,.00,.01,.00,.01,.00,.00,.01,.00,.00,.01,
   .00,.00,.01,.00,.01,.00,.00,.01,.00,.00,.01,.00,.00,.00,.01,.00,.00,.01,.00,.00,.01,.00,.00,.01,.00,.00,.00],
  [.00,.00,.00,.01,.00,.00,.01,.00,.01,.00,.00,.01,.00,.00,.00,.01,.00,.00,.00,.00,.01,.00,.00,.00,.01,.00,
   .00,.01,.00,.00,.00,.00,.01,.00,.00,.00,.01,.00,.00,.00,.00,.00,.01,.00,.00,.00,.00,.00,.01,.00,.00,.00,
   .00,.00,.01,.00,.00,.01,.01,.02,.01,.01,.02,.01,.02,.01,.02,.01,.02,.01,.01,.00,.01,.00,.01,.00,.01,.01,
   .02,.01,.02,.01,.01,.02,.01,.02,.01,.01,.00,.01,.00,.00,.01,.00,.00,.00,.01,.00,.00,.00,.00,.01,.00,.00,
   .01,.00,.00,.01,.00,.00,.01,.01,.02,.01,.00,.01,.00,.00,.00,.01,.00,.00,.00,.00,.01,.00,.00,.00,.00,.01,.00],
  [.00,.01,.00,.00,.01,.01,.00,.01,.00,.00,.01,.00,.01,.00,.00,.01,.00,.00,.01,.00,.00,.01,.00,.00,.00,.01,
   .00,.00,.00,.01,.00,.00,.00,.00,.01,.00,.00,.00,.01,.00,.00,.00,.00,.01,.00,.00,.00,.00,.01,.00,.00,.01,
   .00,.01,.00,.00,.01,.00,.02,.01,.01,.02,.03,.02,.01,.02,.03,.02,.01,.02,.01,.02,.01,.02,.03,.02,.03,.04,
   .03,.04,.05,.04,.03,.04,.02,.03,.01,.02,.01,.00,.01,.00,.01,.00,.00,.01,.00,.00,.00,.01,.00,.00,.01,.00,
   .00,.01,.00,.00,.00,.01,.00,.00,.01,.00,.00,.00,.00,.01,.00,.00,.00,.01,.00,.00,.00,.00,.00,.01,.00,.00,.00]
];
const baselineStep = 2;

// ---------- styling ----------
const FONT = 'Liberation Sans, Arial, sans-serif';
const dotColors = ['#00ff00', '#ff0000', '#0000ff'];
const lineColors = ['rgba(0,255,0,0.6)', 'rgba(255,0,0,0.6)', 'rgba(0,0,255,0.6)'];
const offsets = [-0.068, 0, 0.068];
const axisCol = '#333';

const series = [];
series.push({type:'line', xAxisIndex:2, yAxisIndex:1, data:[], silent:true, z:0,
  markArea:{silent:true, itemStyle:{color:'#ebebeb'}, data:[[{xAxis:1},{xAxis:2}],[{xAxis:3},{xAxis:4}]]}});
series.push({type:'line', xAxisIndex:4, yAxisIndex:3, data:[], silent:true, z:0,
  markArea:{silent:true, itemStyle:{color:'#ebebeb'}, data: shadedSeasons.map(s => [{xAxis:s[0]},{xAxis:s[1]}])}});

const rates = [h1n1Rate, h3n2Rate, bRate], lows = [h1n1Low, h3n2Low, bLow], highs = [h1n1High, h3n2High, bHigh];
for (let k = 0; k < 3; k++) {
  series.push({type:'custom', name: subtypes[k], xAxisIndex:0, yAxisIndex:0, silent:true, z:2,
    data: seasons.map((s, i) => [i + 0.5 + offsets[k], lows[k][i], highs[k][i]]),
    renderItem: (params, api) => {
      const a = api.coord([api.value(0), api.value(1)]);
      const b = api.coord([api.value(0), api.value(2)]);
      return {type:'line', shape:{x1:a[0], y1:a[1], x2:b[0], y2:b[1]}, style:{stroke:'#bdbdbd', lineWidth:1.5}};
    }});
}
for (let k = 0; k < 3; k++) {
  series.push({type:'scatter', name: subtypes[k], xAxisIndex:0, yAxisIndex:0, silent:true, z:3,
    symbol:'circle', symbolSize:9, itemStyle:{color: dotColors[k], opacity:1},
    data: seasons.map((s, i) => [i + 0.5 + offsets[k], rates[k][i]])});
}

function curve(k, start, vals, step) {
  return {type:'line', name: subtypes[k], xAxisIndex:3, yAxisIndex:2, silent:true, z:3,
    showSymbol:false, symbol:'none', animation:false,
    lineStyle:{width:1, color: lineColors[k]}, itemStyle:{color: lineColors[k]},
    data: vals.map((v, i) => [start + i * step, v])};
}
h3n2Baselines.forEach(v => series.push(curve(1, 0, v, baselineStep)));
h3n2Curves.forEach(c => series.push(curve(1, c[0], c[1], 1)));
h1n1Baselines.forEach(v => series.push(curve(0, 0, v, baselineStep)));
h1n1Curves.forEach(c => series.push(curve(0, c[0], c[1], 1)));
bBaselines.forEach(v => series.push(curve(2, 0, v, baselineStep)));
bCurves.forEach(c => series.push(curve(2, c[0], c[1], 1)));

const axLine = {show:true, onZero:false, lineStyle:{color:axisCol}};
const axTick = {show:true, length:7, lineStyle:{color:axisCol}};
const option = {
  animation: false,
  backgroundColor: '#fff',
  textStyle: {fontFamily: FONT},
  grid: [
    {left:91, right:42, top:25, height:301},
    {left:91, right:42, top:25, height:304},
    {left:91, right:42, top:374, height:301},
    {left:91, right:42, top:374, height:305}
  ],
  xAxis: [
    {gridIndex:0, type:'value', min:0, max:5, interval:1, offset:12,
     axisLine:axLine, axisTick:axTick, axisLabel:{show:false}, splitLine:{show:false}},
    {gridIndex:0, type:'category', position:'top', data: seasons,
     axisLine:{show:false}, axisTick:{show:false}, splitLine:{show:false},
     axisLabel:{color:'#000', fontSize:15, margin:11, fontFamily:FONT}},
    {gridIndex:1, type:'value', min:0, max:5, show:false},
    {gridIndex:2, type:'value', min:0, max:260, interval:52, offset:12,
     name:'Week', nameLocation:'middle', nameGap:53, nameTextStyle:{color:'#000', fontSize:15, fontFamily:FONT},
     axisLine:axLine, axisTick:axTick,
     axisLabel:{color:'#000', fontSize:15, lineHeight:16, margin:13, fontFamily:FONT,
       formatter: v => weekTickLabels[weekTicks.indexOf(v)] || ''},
     splitLine:{show:false}},
    {gridIndex:3, type:'value', min:0, max:260, show:false}
  ],
  yAxis: [
    {gridIndex:0, type:'value', min:0, max:6, interval:1, offset:12,
     name:'Influenza\u2212associated respiratory mortality rate\n(per 100,000 person\u2212seasons)',
     nameLocation:'middle', nameGap:42, nameTextStyle:{color:'#000', fontSize:15, lineHeight:17, fontFamily:FONT},
     axisLine:axLine, axisTick:axTick,
     axisLabel:{color:'#000', fontSize:15, margin:17, fontFamily:FONT}, splitLine:{show:false}},
    {gridIndex:1, type:'value', min:0, max:1, show:false},
    {gridIndex:2, type:'value', min:0, max:0.8, interval:0.2, offset:12,
     name:'Influenza virus activity', nameLocation:'middle', nameGap:59,
     nameTextStyle:{color:'#000', fontSize:15, fontFamily:FONT},
     axisLine:axLine, axisTick:axTick,
     axisLabel:{color:'#000', fontSize:15, margin:17, fontFamily:FONT, formatter: v => v.toFixed(1)},
     splitLine:{show:false}},
    {gridIndex:3, type:'value', min:0, max:1, show:false}
  ],
  legend: [
    {orient:'vertical', left:618, top:21, z:10, selectedMode:false, itemWidth:8, itemHeight:8, itemGap:0.5,
     textStyle:{color:'#000', fontSize:12, lineHeight:14, fontFamily:FONT, padding:[0,0,0,1]},
     data: subtypes.map((n, k) => ({name:n, icon:'circle', itemStyle:{color: dotColors[k]}}))},
    {orient:'vertical', left:602, top:365, z:10, selectedMode:false, itemWidth:22, itemHeight:2, itemGap:0,
     textStyle:{color:'#000', fontSize:12, lineHeight:14, fontFamily:FONT, padding:[0,0,0,5]},
     data: subtypes.map((n, k) => ({name:n, icon:'rect', itemStyle:{color: lineColors[k]}}))}
  ],
  graphic: [
    {type:'rect', z:9, shape:{x:609.5, y:17.5, width:115, height:55}, style:{fill:'#fff', stroke:'#333', lineWidth:1}},
    {type:'rect', z:9, shape:{x:596.5, y:362.5, width:128, height:55}, style:{fill:'#fff', stroke:'#333', lineWidth:1}}
  ],
  series
};
const chart = echarts.init(document.getElementById('c'), null, {renderer:'canvas'});
chart.setOption(option);
</script>
</body></html>
